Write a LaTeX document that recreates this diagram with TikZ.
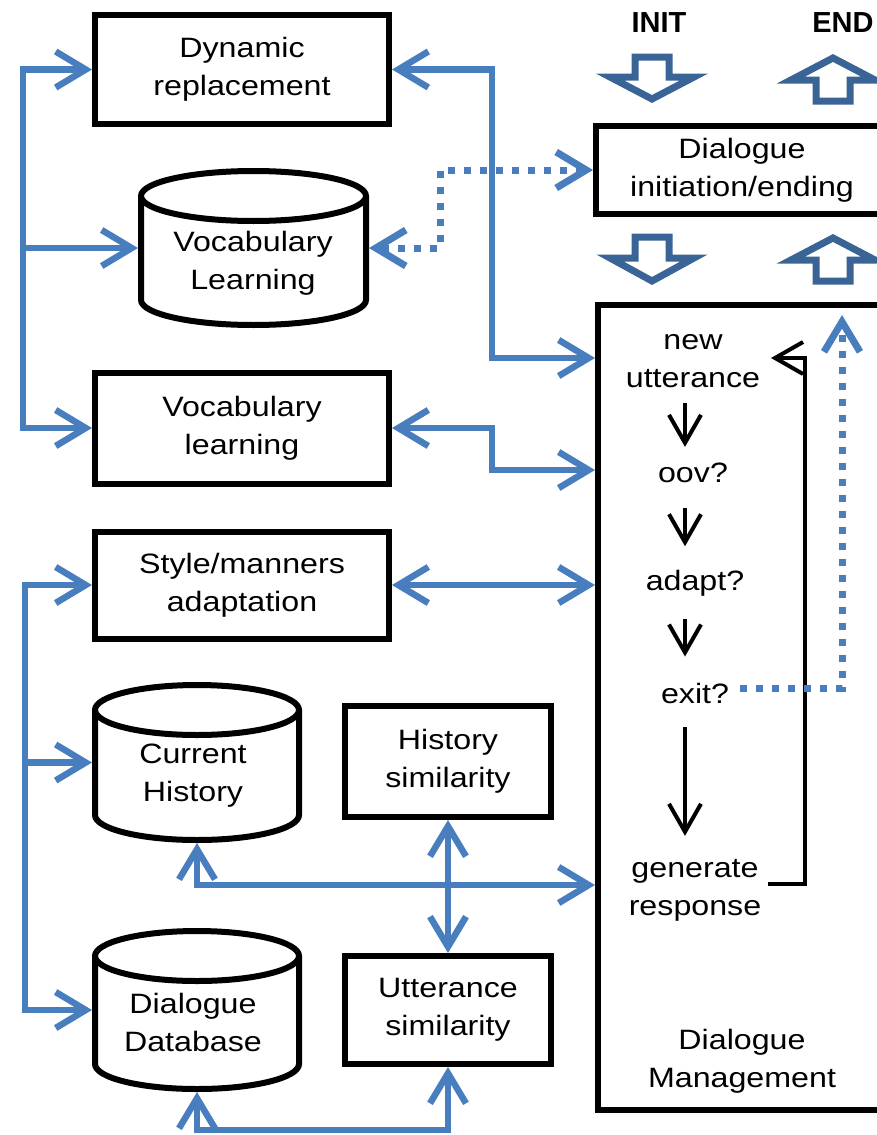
\documentclass[tikz,border=0pt]{standalone}
\usepackage{fontspec}
\setmainfont{Liberation Sans}[FakeStretch=1.15]
\newfontfamily\lblfam{Liberation Sans}
\usetikzlibrary{arrows.meta,calc}
\definecolor{lnblue}{RGB}{72,126,190}
\definecolor{blkblue}{RGB}{58,100,150}
\newcommand\dfont{\fontsize{28}{38}\selectfont}
\newcommand\lblfont{\lblfam\bfseries\fontsize{29}{32}\selectfont}
\newcommand\mycyl[5]{%
  \draw[cylline] ({(#1+#2)/2},{#3+#5}) ellipse [x radius={(#2-#1)/2}, y radius=#5];
  \draw[cylline] (#1,{#3+#5}) -- (#1,{#4-#5})
    .. controls (#1,{#4-#5+0.5523*#5}) and ({(#1+#2)/2-0.5523*(#2-#1)/2},#4) .. ({(#1+#2)/2},#4)
    .. controls ({(#1+#2)/2+0.5523*(#2-#1)/2},#4) and (#2,{#4-#5+0.5523*#5}) .. (#2,{#4-#5})
    -- (#2,{#3+#5});}
\newcommand\downarr[4]{% cx top headbase tip
  \draw[blockarr] ({#1-17},#2) -- ({#1+17},#2) -- ({#1+17},#3) -- ({#1+42},#3) -- (#1,#4)
    -- ({#1-42},#3) -- ({#1-17},#3) -- cycle;}
\newcommand\uparr[4]{% cx tip headbase bottom
  \draw[blockarr] (#1,#2) -- ({#1+42},#3) -- ({#1+17},#3) -- ({#1+17},#4) -- ({#1-17},#4)
    -- ({#1-17},#3) -- ({#1-42},#3) -- cycle;}
\begin{document}
\begin{tikzpicture}[x=1pt,y=-1pt,
  box/.style={draw=black, line width=6pt, inner sep=0pt, align=center, font=\dfont},
  txt/.style={inner sep=0pt, align=center, font=\dfont},
  cylnode/.style={inner sep=0pt, outer sep=3pt},
  cylline/.style={draw=black, line width=6pt},
  bl/.style={draw=lnblue, line width=6.5pt, >={Straight Barb[length=30pt,width=36pt]}},
  dotl/.style={bl, line width=7pt, dash pattern=on 7pt off 9pt},
  blk/.style={draw=black, line width=4pt, >={Straight Barb[length=28pt,width=32pt]}},
  blockarr/.style={draw=blkblue, line width=7pt, fill=white, line join=miter},
  lbl/.style={inner sep=0pt, font=\lblfont}]
\useasboundingbox (0,0) rectangle (877,1135);
\clip (0,0) rectangle (877,1135);

% helper coordinates
\coordinate (busU) at (23,0);
\coordinate (busL) at (25,0);
\coordinate (vx) at (492,0);
\coordinate (dx) at (440,0);
\coordinate (yA) at (0,358);
\coordinate (yB) at (0,470);
\coordinate (yC) at (0,885);
\coordinate (yD) at (0,1130);

% left boxes
\node[box, minimum width=294pt, minimum height=109pt] (dyn) at (242,69.5) {Dynamic\\replacement};
\node[box, minimum width=294pt, minimum height=111pt] (vlb) at (242,428) {Vocabulary\\learning};
\node[box, minimum width=294pt, minimum height=107pt] (sty) at (242,585) {Style/manners\\adaptation};
\node[box, minimum width=206pt, minimum height=111pt] (hs) at (448,761.5) {History\\similarity};
\node[box, minimum width=206pt, minimum height=108pt] (us) at (448,1010) {Utterance\\similarity};

% cylinders
\node[cylnode, minimum width=225pt, minimum height=154pt] (vlc) at (253.5,248) {};
\mycyl{141}{366}{171}{325}{25}
\node[txt] (vlct) at (253,263) {Vocabulary\\Learning};
\node[cylnode, minimum width=204pt, minimum height=155pt] (ch) at (197,762.5) {};
\mycyl{95}{299}{685}{840}{25}
\node[txt] (cht) at (193,776) {Current\\History};
\node[cylnode, minimum width=204pt, minimum height=158pt] (ddb) at (197,1010) {};
\mycyl{95}{299}{931}{1089}{25}
\node[txt] (ddbt) at (193,1022) {Dialogue\\Database};

% right boxes
\node[box, minimum width=292pt, minimum height=88pt] (init) at (742,170) {Dialogue\\initiation/ending};
\node[box, minimum width=290pt, minimum height=805pt] (dm) at (743,707.5) {};
\node[txt] (dmt) at (742,1061) {Dialogue\\Management};

% flow inside dialogue management
\node[txt] (nu) at (693,361.5) {new\\utterance};
\node[txt] (oov) at (693,473) {oov?};
\node[txt] (adp) at (695,583.5) {adapt?};
\node[txt] (ext) at (695,693) {exit?};
\node[txt] (gen) at (695,890) {generate\\response};

\draw[blk,->] ($(nu.south)+(-8,15)$) -- ($(oov.north)+(-8,-16)$);
\draw[blk,->] ($(oov.south)+(-8,25)$) -- ($(adp.north)+(-10,-24)$);
\draw[blk,->] ($(adp.south)+(-10,22)$) -- ($(ext.north)+(-10,-26)$);
\draw[blk,->] ($(ext.south)+(-10,24)$) -- ($(gen.north)+(-10,-23)$);
\coordinate (lpS) at (768,884);
\coordinate (lpE) at (771,358);
\draw[blk,->] (lpS) -- ++(37,0) |- (lpE);

% INIT / END labels and block arrows
\node[lbl] (initl) at (659,22.5) {INIT};
\node[lbl] (endl) at (843,22.5) {END};
\downarr{652}{57}{77}{99}
\uparr{833}{58}{80}{101}
\downarr{652}{237}{258}{281}
\uparr{833}{238}{260}{281}

% blue connectors
\draw[bl,<->] (dyn.west) -- (dyn.west -| busU) |- (vlb.west);
\draw[bl,->] (vlc.west -| busU) -- (vlc.west);
\draw[bl,<->] (sty.west) -- (sty.west -| busL) |- (ddb.west);
\draw[bl,->] (ch.west -| busL) -- (ch.west);
\draw[bl,<->] (dyn.east) -- (dyn.east -| vx) |- (dm.west |- yA);
\draw[bl,<->] (vlb.east) -- (vlb.east -| vx) |- (dm.west |- yB);
\draw[bl,<->] (sty.east) -- (dm.west |- sty.east);
\draw[bl,<->] (ch.south) |- (dm.west |- yC);
\draw[bl,<->] (hs.south) -- (us.north);
\draw[bl,<->] (ddb.south) -- (ddb.south |- yD) -| (us.south);

% dotted connectors
\draw[dotl,<->] (init.west) -- (init.west -| dx) |- (vlc.east);
\coordinate (exS) at (740,688);
\coordinate (exE) at (842,315);
\draw[dotl,->] (exS) -| (exE);
\end{tikzpicture}
\end{document}
